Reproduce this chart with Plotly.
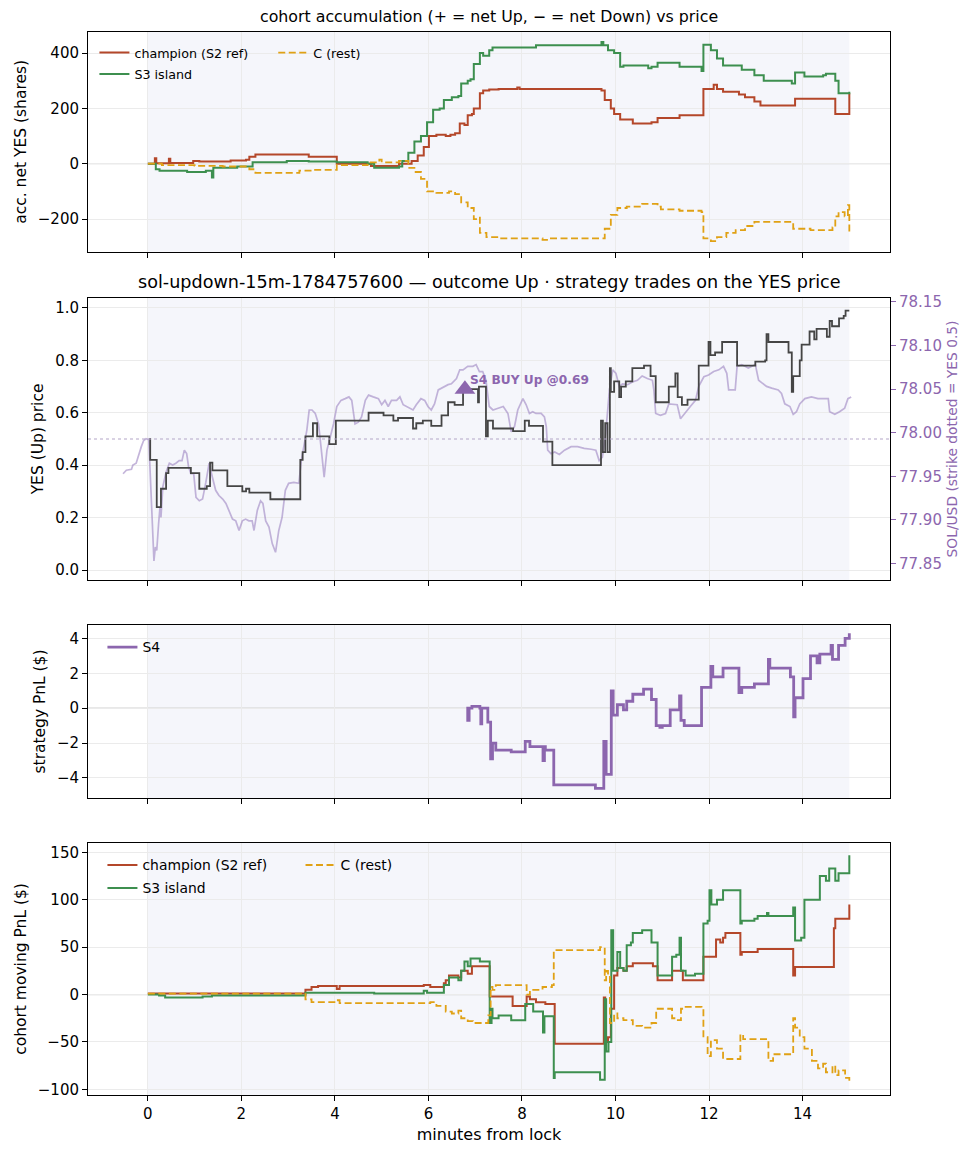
import plotly.graph_objects as go

# ---------------------------------------------------------------------------
#  data (minutes from lock)
# ---------------------------------------------------------------------------

# panel 1 : accumulated net YES shares per cohort (step, post)
champ_acc_t = [0, 0.15, 0.18, 0.45, 0.48, 0.97, 1.10, 1.77, 2.10, 2.17, 2.30, 3.44, 4.04, 4.77,
               5.37, 5.64, 5.77, 5.90, 6.01, 6.17, 6.37, 6.47, 6.57, 6.67, 6.77, 6.84, 6.93,
               6.97, 7.10, 7.17, 7.30, 7.50, 7.90, 7.95, 9.70, 9.77, 9.90, 9.97, 10.10, 10.37,
               10.77, 10.90, 11.37, 11.88, 12.10, 12.17, 12.30, 12.64, 12.77, 12.97, 13.10,
               13.84, 14.70, 15.00]
champ_acc_v = [0, 20, 2, 18, 3, 10, 8, 12, 14, 25, 33, 25, 0, -8,
               0, 10, 30, 60, 100, 105, 100, 105, 110, 145, 140, 175, 180,
               200, 255, 265, 268, 270, 275, 270, 265, 230, 200, 180, 160, 145,
               150, 165, 175, 270, 285, 270, 260, 250, 240, 225, 210,
               235, 180, 255]

s3_acc_t = [0, 0.17, 0.25, 0.84, 1.24, 1.37, 1.40, 1.91, 2.24, 2.97, 3.44, 4.04, 4.70, 4.84,
            5.37, 5.44, 5.57, 5.70, 5.84, 5.97, 6.10, 6.24, 6.33, 6.50, 6.64, 6.70, 6.84,
            6.90, 6.97, 7.10, 7.17, 7.30, 7.37, 8.30, 9.70, 9.74, 9.84, 9.97, 10.10, 10.17,
            10.70, 10.77, 10.90, 11.37, 11.84, 11.88, 12.04, 12.17, 12.30, 12.70, 12.97,
            13.17, 13.77, 13.84, 14.04, 14.44, 14.50, 14.70, 14.77, 15.00]
s3_acc_v = [0, -20, -25, -30, -25, -50, -15, -10, 5, 10, 8, 5, 0, -15,
            -10, 10, 40, 80, 100, 150, 195, 200, 230, 240, 245, 290, 300,
            305, 360, 400, 390, 410, 420, 428, 440, 428, 410, 400, 350, 355,
            345, 350, 365, 350, 335, 430, 410, 380, 355, 340, 320,
            300, 290, 330, 315, 320, 325, 300, 255, 260]

c_acc_t = [0, 0.30, 1.00, 1.60, 2.17, 2.30, 3.24, 3.50, 4.04, 4.70, 4.95, 5.00, 5.37, 5.57,
           5.70, 5.84, 5.97, 6.17, 6.44, 6.57, 6.70, 6.84, 6.97, 7.04, 7.10, 7.24, 7.50,
           8.44, 8.57, 9.77, 9.90, 10.04, 10.24, 10.57, 10.90, 10.97, 11.37, 11.84, 11.88,
           12.04, 12.17, 12.37, 12.57, 12.77, 12.97, 13.80, 14.17, 14.64, 14.70, 14.77,
           14.90, 14.97, 15.00]
c_acc_v = [0, -5, -8, -10, -20, -33, -25, -22, -5, 5, 15, 5, 10, -15,
           -30, -55, -100, -105, -100, -110, -140, -160, -200, -195, -250, -265, -270,
           -275, -270, -235, -185, -160, -155, -145, -155, -165, -170, -175, -270,
           -280, -265, -250, -240, -225, -210, -235, -240, -230, -190, -175,
           -190, -150, -255]

# panel 2 : YES (Up) price (step) and SOL/USD spot (line)
yes_t = [0.03, 0.05, 0.19, 0.28, 0.39, 0.44, 0.92, 1.10, 1.26, 1.33,
         1.38, 1.70, 2.02, 2.10, 2.17, 2.62, 3.26, 3.31, 3.37, 3.53,
         3.62, 3.88, 4.02, 4.72, 5.04, 5.25, 5.35, 5.67, 5.74, 5.88,
         6.06, 6.28, 6.42, 6.56, 6.74, 7.06, 7.08, 7.23, 7.27, 7.38,
         7.81, 8.06, 8.15, 8.45, 8.65, 9.69, 9.73, 9.78, 9.83, 9.88,
         9.90, 9.97, 10.08, 10.12, 10.22, 10.36, 10.61, 10.75, 10.86, 11.14,
         11.28, 11.33, 11.42, 11.54, 11.78, 11.99, 12.03, 12.13, 12.28, 12.60,
         12.99, 13.20, 13.23, 13.27, 13.70, 13.77, 13.80, 13.94, 13.98, 14.15,
         14.25, 14.30, 14.52, 14.58, 14.63, 14.78, 14.88, 14.92, 15.00]
yes_p = [0.50, 0.42, 0.24, 0.31, 0.37, 0.39, 0.37, 0.31, 0.32, 0.41,
         0.38, 0.32, 0.30, 0.31, 0.295, 0.27, 0.42, 0.45, 0.51, 0.56,
         0.51, 0.48, 0.57, 0.60, 0.59, 0.57, 0.58, 0.54, 0.56, 0.57,
         0.55, 0.59, 0.64, 0.63, 0.69, 0.64, 0.70, 0.51, 0.57, 0.54,
         0.53, 0.57, 0.55, 0.49, 0.40, 0.57, 0.45, 0.56, 0.45, 0.77,
         0.68, 0.72, 0.66, 0.70, 0.72, 0.77, 0.78, 0.74, 0.64, 0.70,
         0.75, 0.66, 0.63, 0.65, 0.78, 0.87, 0.82, 0.83, 0.87, 0.78,
         0.795, 0.80, 0.90, 0.87, 0.83, 0.68, 0.74, 0.80, 0.86, 0.91,
         0.88, 0.92, 0.89, 0.95, 0.93, 0.96, 0.97, 0.99, 0.99]

sol_t = [-0.53, -0.46, -0.35, -0.32, -0.25, -0.19, -0.14, -0.09, -0.04, 0.02,
         0.05, 0.09, 0.13, 0.16, 0.19, 0.23, 0.26, 0.28, 0.32, 0.39,
         0.46, 0.53, 0.60, 0.67, 0.73, 0.78, 0.83, 0.87, 0.92, 0.98,
         1.03, 1.10, 1.17, 1.24, 1.31, 1.38, 1.45, 1.52, 1.60, 1.67,
         1.74, 1.81, 1.88, 1.95, 2.02, 2.09, 2.16, 2.23, 2.27, 2.34,
         2.41, 2.46, 2.52, 2.59, 2.66, 2.73, 2.80, 2.87, 2.94, 3.01,
         3.12, 3.23, 3.28, 3.33, 3.40, 3.45, 3.51, 3.58, 3.65, 3.71,
         3.77, 3.83, 3.90, 3.97, 4.04, 4.13, 4.22, 4.30, 4.36, 4.43,
         4.50, 4.57, 4.65, 4.72, 4.82, 4.93, 5.00, 5.07, 5.14, 5.21,
         5.32, 5.39, 5.46, 5.53, 5.60, 5.67, 5.74, 5.84, 5.92, 5.99,
         6.06, 6.13, 6.21, 6.28, 6.35, 6.42, 6.49, 6.60, 6.67, 6.74,
         6.84, 6.95, 7.02, 7.09, 7.16, 7.23, 7.30, 7.38, 7.49, 7.60,
         7.70, 7.77, 7.84, 7.91, 8.02, 8.09, 8.16, 8.23, 8.30, 8.41,
         8.48, 8.52, 8.55, 8.62, 8.70, 8.80, 8.91, 9.05, 9.19, 9.33,
         9.48, 9.58, 9.65, 9.72, 9.79, 9.87, 9.94, 10.01, 10.08, 10.15,
         10.26, 10.36, 10.47, 10.57, 10.68, 10.79, 10.82, 10.86, 10.96, 11.07,
         11.14, 11.25, 11.32, 11.39, 11.50, 11.60, 11.71, 11.78, 11.89, 11.99,
         12.10, 12.21, 12.31, 12.38, 12.42, 12.56, 12.60, 12.70, 12.84, 12.99,
         13.06, 13.16, 13.23, 13.34, 13.48, 13.55, 13.62, 13.73, 13.80, 13.87,
         13.94, 14.05, 14.19, 14.33, 14.48, 14.55, 14.58, 14.69, 14.79, 14.90,
         14.97, 15.04]
sol_usd = [77.953, 77.957, 77.958, 77.963, 77.965, 77.976, 77.984, 77.991, 77.993, 77.992,
           77.953, 77.896, 77.853, 77.869, 77.865, 77.896, 77.915, 77.903, 77.938, 77.955,
           77.965, 77.963, 77.965, 77.968, 77.968, 77.980, 77.976, 77.961, 77.953, 77.953,
           77.926, 77.922, 77.924, 77.943, 77.965, 77.949, 77.934, 77.928, 77.924, 77.919,
           77.911, 77.901, 77.899, 77.888, 77.899, 77.901, 77.899, 77.899, 77.888, 77.911,
           77.922, 77.919, 77.899, 77.892, 77.873, 77.863, 77.888, 77.903, 77.934, 77.942,
           77.943, 77.942, 77.968, 77.984, 78.003, 78.026, 78.026, 78.022, 78.010, 77.980,
           77.949, 77.980, 77.995, 78.010, 78.030, 78.037, 78.039, 78.041, 78.037, 78.010,
           78.012, 78.018, 78.037, 78.043, 78.041, 78.039, 78.032, 78.037, 78.030, 78.037,
           78.037, 78.041, 78.032, 78.030, 78.028, 78.026, 78.032, 78.039, 78.037, 78.030,
           78.026, 78.033, 78.049, 78.051, 78.053, 78.055, 78.056, 78.062, 78.072, 78.072,
           78.076, 78.076, 78.078, 78.070, 78.070, 78.060, 78.030, 78.026, 78.028, 78.030,
           78.022, 78.001, 78.007, 78.026, 78.039, 78.032, 78.022, 78.024, 78.022, 78.022,
           78.018, 78.007, 77.980, 77.976, 77.978, 77.975, 77.980, 77.984, 77.984, 77.982,
           77.981, 77.980, 77.968, 77.972, 77.999, 78.049, 78.072, 78.068, 78.053, 78.056,
           78.055, 78.058, 78.060, 78.065, 78.062, 78.060, 78.049, 78.022, 78.020, 78.022,
           78.033, 78.032, 78.032, 78.016, 78.024, 78.030, 78.037, 78.053, 78.064, 78.066,
           78.070, 78.072, 78.076, 78.068, 78.049, 78.049, 78.076, 78.078, 78.074, 78.078,
           78.060, 78.056, 78.053, 78.051, 78.049, 78.045, 78.033, 78.030, 78.021, 78.024,
           78.033, 78.039, 78.041, 78.039, 78.039, 78.039, 78.024, 78.021, 78.024, 78.028,
           78.039, 78.041]

strike_yes = 0.5
trade_t = [6.78]
trade_p = [0.69]
trade_label = "S4 BUY Up @0.69"

# panel 3 : S4 strategy PnL ($)
s4_t = [6.81, 6.84, 6.87, 6.93, 7.10, 7.12, 7.14, 7.27, 7.33, 7.37, 7.44, 7.77, 8.07, 8.17,
        8.45, 8.48, 8.50, 8.68, 9.57, 9.75, 9.80, 9.91, 9.95, 10.04, 10.17, 10.24, 10.37,
        10.60, 10.77, 10.87, 10.95, 11.00, 11.17, 11.37, 11.40, 11.47, 11.84, 12.04, 12.08,
        12.30, 12.64, 12.70, 12.97, 13.27, 13.30, 13.74, 13.81, 13.84, 14.01, 14.17, 14.31,
        14.37, 14.61, 14.64, 14.77, 14.91, 15.00]
s4_pnl = [0, -0.7, 0, 0.1, 0, -0.9, 0, -0.8, -2.9, -2.0, -2.4, -2.5, -1.9, -2.2,
          -3.0, -2.2, -2.4, -4.4, -4.6, -1.9, -3.8, 1.0, -0.4, 0.2, -0.1, 0.4, 0.8,
          1.1, 0.5, -1.0, -1.1, -1.0, -0.1, 0.7, -0.7, -1.0, 1.2, 2.4, 1.8,
          2.3, 0.9, 1.2, 1.4, 2.8, 2.3, 1.8, -0.5, 0.6, 1.7, 3.0, 2.6,
          3.1, 3.6, 2.8, 3.6, 4.0, 4.3]

# panel 4 : cohort moving PnL ($)
champ_pnl_t = [0, 3.37, 3.50, 3.64, 4.04, 4.10, 5.90, 6.04, 6.33, 6.37, 6.44, 6.64, 6.70, 6.84,
               6.93, 7.31, 7.80, 8.10, 8.17, 8.30, 8.50, 8.70, 9.75, 9.78, 9.84, 9.90, 9.97,
               10.04, 10.17, 10.24, 10.37, 10.80, 10.90, 11.21, 11.44, 11.88, 12.15, 12.24,
               12.30, 12.35, 12.67, 12.70, 13.04, 13.80, 13.84, 14.67, 14.70, 15.00]
champ_pnl_v = [1, 5, 8, 9, 6, 9, 10, 8, 12, 15, 20, 18, 25, 22,
               30, -2, -12, -2, -5, -8, -10, -52, -3, -50, -45, -15, 20,
               28, 25, 30, 33, 30, 15, 25, 15, 40, 58, 55,
               60, 65, 42, 45, 48, 20, 29, 70, 80, 95]

s3_pnl_t = [0, 0.24, 0.37, 1.17, 1.37, 3.37, 4.84, 5.90, 5.97, 6.33, 6.44, 6.64, 6.70, 6.77,
            6.84, 6.90, 7.10, 7.31, 7.35, 7.37, 7.50, 7.77, 8.07, 8.24, 8.45, 8.48, 8.68,
            8.70, 9.67, 9.77, 9.80, 9.85, 9.91, 9.95, 10.04, 10.10, 10.17, 10.24, 10.33,
            10.37, 10.57, 10.77, 10.90, 11.21, 11.30, 11.37, 11.40, 11.50, 11.70, 11.88,
            11.97, 12.01, 12.05, 12.17, 12.30, 12.67, 12.70, 12.97, 13.04, 13.24, 13.27,
            13.80, 13.84, 13.97, 14.04, 14.37, 14.50, 14.57, 14.70, 14.77, 15.00]
s3_pnl_v = [0, -1, -3, -2, -1, 2, 1, 4, 2, 10, 18, 15, 25, 35,
            30, 38, 35, -30, -15, -25, -22, -27, -10, -18, -40, -23, -88,
            -82, -90, -5, -60, -50, 68, 25, 45, 28, 25, 52, 55,
            65, 68, 55, 20, 40, 42, 60, 25, 20, 22, 75,
            78, 110, 95, 100, 110, 75, 78, 80, 83, 86, 83,
            92, 57, 60, 100, 125, 120, 133, 120, 128, 147]

c_pnl_t = [0, 3.37, 3.50, 4.04, 4.10, 6.04, 6.17, 6.37, 6.50, 6.64, 6.70, 6.84, 6.95, 7.28,
           7.33, 7.37, 7.44, 8.10, 8.17, 8.44, 8.64, 8.68, 9.67, 9.77, 9.80, 9.84, 9.88,
           9.97, 10.04, 10.17, 10.37, 10.57, 10.77, 10.87, 11.21, 11.30, 11.40, 11.50,
           11.84, 11.88, 11.97, 12.04, 12.17, 12.30, 12.67, 12.73, 13.27, 13.37, 13.80,
           13.84, 13.94, 14.04, 14.20, 14.33, 14.44, 14.50, 14.64, 14.70, 14.77, 14.91, 15.00]
c_pnl_v = [1, -5, -8, -6, -9, -8, -12, -18, -20, -17, -25, -28, -30, -22,
           8, 5, 10, 0, 5, 8, 10, 47, 50, 15, 25, 20, -30,
           -20, -25, -27, -33, -35, -30, -15, -25, -27, -15, -13,
           -15, -45, -65, -48, -57, -68, -42, -47, -70, -63, -25,
           -35, -45, -57, -70, -78, -73, -82, -75, -85, -80, -88, -93]

# ---------------------------------------------------------------------------

RED = "#b4472a"
GREEN = "#3d8f4f"
ORANGE = "#e0a115"
PURPLE = "#8c66ae"
DARK = "#454545"
SOL_COL = "rgba(160,135,195,0.62)"
FONT = "DejaVu Sans"

x_range = [-1.28, 15.87]
lock_span = [0, 15]

fig = go.Figure()

# panel 1
fig.add_trace(go.Scatter(x=champ_acc_t, y=champ_acc_v, name="champion (S2 ref)", mode="lines",
                         line=dict(color=RED, width=2, shape="hv"), xaxis="x", yaxis="y",
                         legend="legend", legendgroup="a1"))
fig.add_trace(go.Scatter(x=s3_acc_t, y=s3_acc_v, name="S3 island", mode="lines",
                         line=dict(color=GREEN, width=2, shape="hv"), xaxis="x", yaxis="y",
                         legend="legend", legendgroup="a2"))
fig.add_trace(go.Scatter(x=c_acc_t, y=c_acc_v, name="C (rest)", mode="lines",
                         line=dict(color=ORANGE, width=1.8, shape="hv", dash="7px,3.5px"),
                         xaxis="x", yaxis="y", legend="legend2"))

# panel 2 (y2 = SOL on the right, y5 = YES price overlay on the left)
fig.add_trace(go.Scatter(x=sol_t, y=sol_usd, mode="lines", showlegend=False,
                         line=dict(color=SOL_COL, width=1.7), xaxis="x2", yaxis="y2"))
fig.add_trace(go.Scatter(x=yes_t, y=yes_p, mode="lines", showlegend=False,
                         line=dict(color=DARK, width=1.8, shape="hv"), xaxis="x2", yaxis="y5"))
fig.add_trace(go.Scatter(x=trade_t, y=trade_p, mode="markers", showlegend=False,
                         marker=dict(symbol="triangle-up", size=18, color=PURPLE),
                         xaxis="x2", yaxis="y5"))

# panel 3
fig.add_trace(go.Scatter(x=s4_t, y=s4_pnl, name="S4", mode="lines",
                         line=dict(color=PURPLE, width=2.8, shape="hv"), xaxis="x3", yaxis="y3",
                         legend="legend3"))

# panel 4
fig.add_trace(go.Scatter(x=champ_pnl_t, y=champ_pnl_v, name="champion (S2 ref)", mode="lines",
                         line=dict(color=RED, width=2, shape="hv"), xaxis="x4", yaxis="y4",
                         legend="legend4", legendgroup="b1"))
fig.add_trace(go.Scatter(x=s3_pnl_t, y=s3_pnl_v, name="S3 island", mode="lines",
                         line=dict(color=GREEN, width=2, shape="hv"), xaxis="x4", yaxis="y4",
                         legend="legend4", legendgroup="b2"))
fig.add_trace(go.Scatter(x=c_pnl_t, y=c_pnl_v, name="C (rest)", mode="lines",
                         line=dict(color=ORANGE, width=1.8, shape="hv", dash="7px,3.5px"),
                         xaxis="x4", yaxis="y4", legend="legend5"))

ax = dict(showline=True, linecolor="black", linewidth=1, mirror=True, ticks="outside",
          ticklen=5, tickwidth=1, tickcolor="black", showgrid=True, gridcolor="#ebebeb",
          gridwidth=1, zeroline=False, tickfont=dict(size=15, color="black"))
xax = dict(ax, range=x_range, tickvals=[0, 2, 4, 6, 8, 10, 12, 14])
ytitle = dict(font=dict(size=15.5, color="black"), standoff=7)

shapes = []
for xr, yr in [("x", "y"), ("x2", "y2"), ("x3", "y3"), ("x4", "y4")]:
    shapes.append(dict(type="rect", xref=xr, yref=yr + " domain", x0=lock_span[0], x1=lock_span[1],
                       y0=0, y1=1, fillcolor="#f5f6fb", line=dict(width=0), layer="below"))
for xr, yr in [("x", "y"), ("x3", "y3"), ("x4", "y4")]:
    shapes.append(dict(type="line", xref=xr + " domain", yref=yr, x0=0, x1=1, y0=0, y1=0,
                       line=dict(color="#d2d2d2", width=1.2), layer="below"))
shapes.append(dict(type="line", xref="x2 domain", yref="y5", x0=0, x1=1, y0=strike_yes,
                   y1=strike_yes, line=dict(color="#b3a6c8", width=1.1, dash="dot")))

leg = dict(bgcolor="rgba(0,0,0,0)", borderwidth=0, xref="paper", yref="paper",
           xanchor="left", yanchor="top", itemwidth=30, tracegroupgap=2,
           font=dict(family=FONT, size=12.7, color="black"))
leg_big = dict(leg, font=dict(family=FONT, size=13.9, color="black"))

# the page body adds an 8px offset, so the figure is 8px smaller than the window
fig.update_layout(
    width=970, height=1148,
    margin=dict(l=80, r=88, t=24, b=61),
    paper_bgcolor="white", plot_bgcolor="white",
    font=dict(family=FONT, size=15, color="black"),
    xaxis=dict(xax, anchor="y", domain=[0, 1], showticklabels=False),
    xaxis2=dict(xax, anchor="y2", domain=[0, 1], showticklabels=False),
    xaxis3=dict(xax, anchor="y3", domain=[0, 1], showticklabels=False),
    xaxis4=dict(xax, anchor="y4", domain=[0, 1],
                title=dict(text="minutes from lock", font=dict(size=16), standoff=6)),
    yaxis=dict(ax, anchor="x", domain=[0.7933, 1.0], range=[-318, 476],
               tickvals=[-200, 0, 200, 400], ticktext=["\u2212200", "0", "200", "400"],
               title=dict(ytitle, text="acc. net YES (shares)")),
    yaxis2=dict(ax, anchor="x2", domain=[0.4845, 0.7498], side="right", mirror=False,
                showgrid=False, range=[77.8313, 78.1543],
                tickvals=[77.85, 77.90, 77.95, 78.00, 78.05, 78.10, 78.15], tickformat=".2f",
                tickcolor=PURPLE, tickfont=dict(size=15, color=PURPLE),
                title=dict(text="SOL/USD (strike dotted = YES 0.5)",
                           font=dict(size=13.8, color=PURPLE), standoff=6)),
    yaxis5=dict(ax, anchor="x2", overlaying="y2", side="left", range=[-0.038, 1.038],
                tickvals=[0, 0.2, 0.4, 0.6, 0.8, 1.0], tickformat=".1f",
                title=dict(ytitle, text="YES (Up) price")),
    yaxis3=dict(ax, anchor="x3", domain=[0.2794, 0.4421], range=[-5.15, 4.77],
                tickvals=[-4, -2, 0, 2, 4], ticktext=["\u22124", "\u22122", "0", "2", "4"],
                title=dict(ytitle, text="strategy PnL ($)")),
    yaxis4=dict(ax, anchor="x4", domain=[0, 0.2371], range=[-106, 160],
                tickvals=[-100, -50, 0, 50, 100, 150],
                ticktext=["\u2212100", "\u221250", "0", "50", "100", "150"],
                title=dict(ytitle, text="cohort moving PnL ($)")),
    shapes=shapes,
    legend=dict(leg, x=0.008, y=0.9945),
    legend2=dict(leg, x=0.231, y=0.9945),
    legend3=dict(leg_big, x=0.018, y=0.436),
    legend4=dict(leg_big, x=0.018, y=0.231),
    legend5=dict(leg_big, x=0.265, y=0.231),
    annotations=[
        dict(text="cohort accumulation (+ = net Up, \u2212 = net Down) vs price", xref="paper",
             yref="paper", x=0.5, y=1.0145, xanchor="center", yanchor="middle",
             showarrow=False, font=dict(size=15.8)),
        dict(text="sol-updown-15m-1784757600 \u2014 outcome Up \u00b7 strategy trades on the YES price",
             xref="paper", yref="paper", x=0.5, y=0.7648, xanchor="center", yanchor="middle",
             showarrow=False, font=dict(size=17.6)),
        dict(text="<b>" + trade_label + "</b>", xref="x2", yref="y5", x=trade_t[0], y=trade_p[0],
             xanchor="left", yanchor="middle", xshift=3, yshift=9, showarrow=False,
             font=dict(size=12.2, color=PURPLE)),
    ],
)

fig.write_html("out.html")
